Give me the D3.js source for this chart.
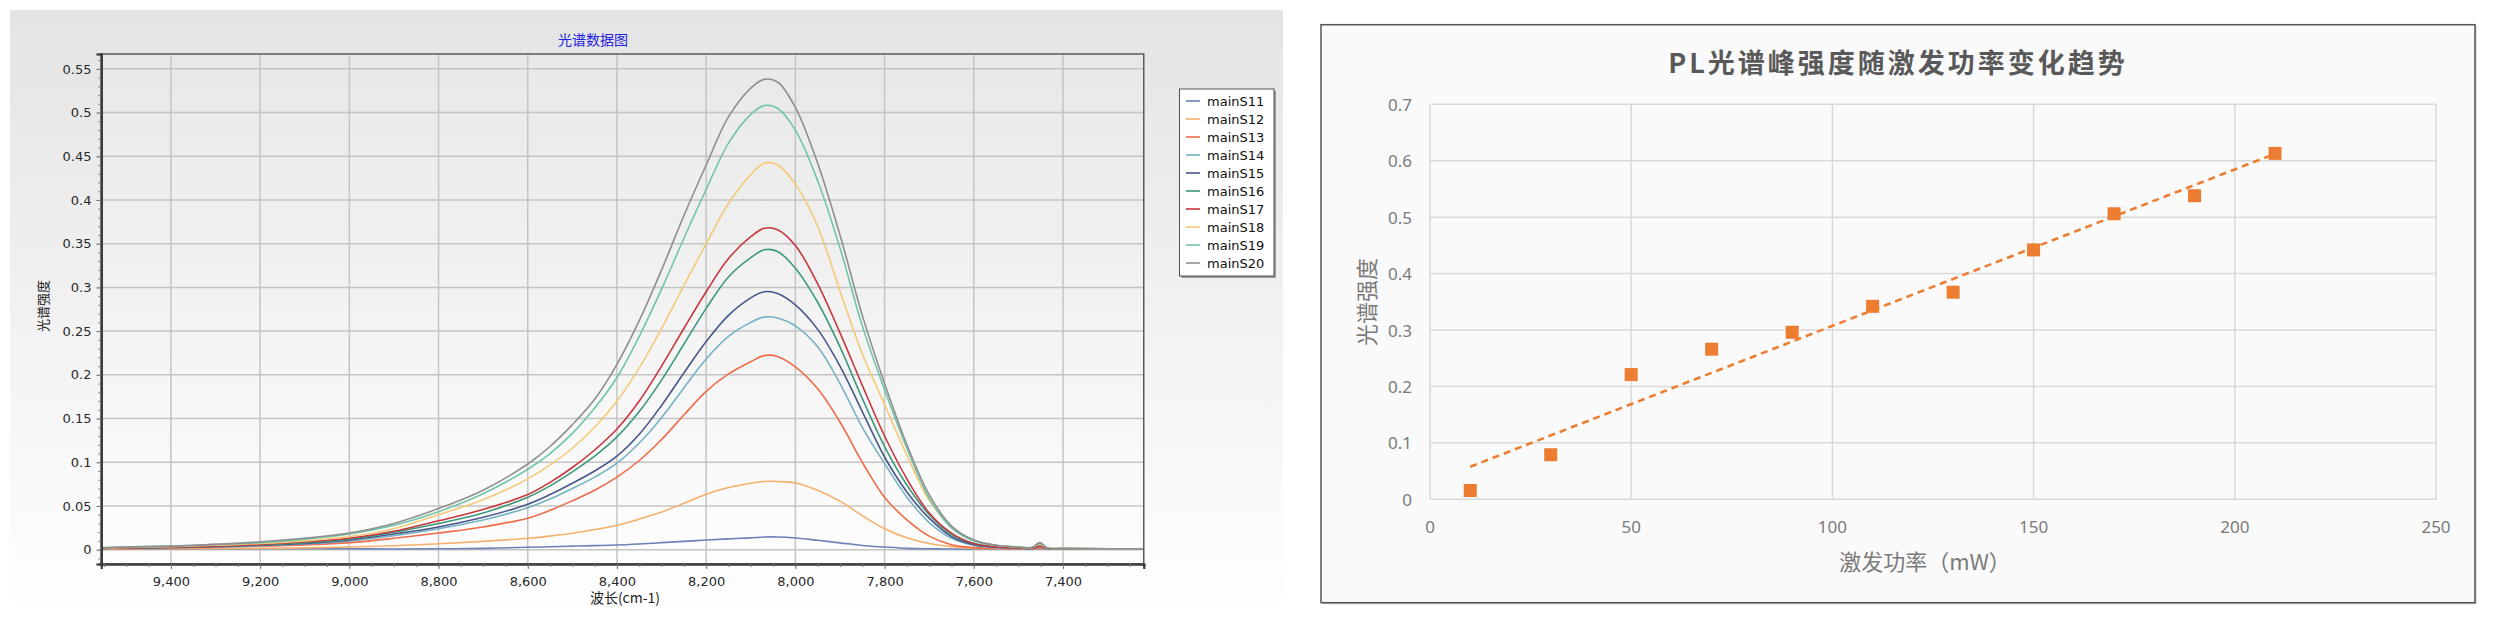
<!DOCTYPE html>
<html>
<head>
<meta charset="utf-8">
<script src="https://cdn.jsdelivr.net/npm/d3@7/dist/d3.min.js"></script>
<style>
  html, body { margin: 0; padding: 0; background: #ffffff; }
  svg { display: block; }
</style>
</head>
<body>
<svg id="chart" width="2500" height="628"></svg>
<script>
// ---------------- DATA (left chart: PL spectra) ----------------
const wavenumbers = [9556, 9500, 9400, 9300, 9200, 9100, 9000, 8900, 8800, 8700, 8600, 8550, 8500, 8450, 8400, 8350, 8300, 8250, 8200, 8150, 8100, 8070, 8040, 8000, 7950, 7900, 7850, 7800, 7750, 7700, 7650, 7600, 7550, 7500, 7470, 7452, 7435, 7400, 7300, 7220];

const seriesNames = ["mainS11", "mainS12", "mainS13", "mainS14", "mainS15", "mainS16", "mainS17", "mainS18", "mainS19", "mainS20"];
const seriesColors = ["#6c81b8", "#f5b06a", "#ef6b47", "#75b2c3", "#48578a", "#3d997e", "#c9363e", "#f4c978", "#70c5a8", "#8f8f8f"];

const mainS11 = [0.0008, 0.0008, 0.0008, 0.0008, 0.001, 0.001, 0.001, 0.0008, 0.001, 0.0015, 0.0027, 0.0033, 0.004, 0.0046, 0.0053, 0.0065, 0.008, 0.0095, 0.011, 0.0123, 0.0135, 0.0145, 0.0145, 0.0134, 0.0107, 0.0078, 0.0048, 0.003, 0.0015, 0.001, 0.0008, 0.0005, 0.0005, 0.0005, 0.0005, 0.0005, 0.0005, 0.0005, 0.0005, 0.0005];
const mainS12 = [0.001, 0.001, 0.001, 0.0012, 0.0015, 0.002, 0.003, 0.0045, 0.0068, 0.0095, 0.013, 0.0155, 0.0187, 0.023, 0.028, 0.035, 0.043, 0.053, 0.0635, 0.071, 0.076, 0.078, 0.078, 0.0763, 0.068, 0.0555, 0.039, 0.024, 0.0135, 0.007, 0.0035, 0.0015, 0.001, 0.001, 0.001, 0.001, 0.001, 0.001, 0.001, 0.001];
const mainS13 = [0.0015, 0.0015, 0.002, 0.003, 0.004, 0.0055, 0.008, 0.013, 0.019, 0.026, 0.036, 0.045, 0.056, 0.068, 0.083, 0.102, 0.126, 0.154, 0.181, 0.201, 0.215, 0.222, 0.221, 0.209, 0.184, 0.146, 0.100, 0.060, 0.034, 0.0155, 0.0057, 0.0023, 0.0012, 0.001, 0.001, 0.002, 0.001, 0.001, 0.001, 0.001];
const mainS14 = [0.0015, 0.002, 0.0025, 0.003, 0.0045, 0.0065, 0.010, 0.016, 0.024, 0.034, 0.048, 0.058, 0.070, 0.083, 0.099, 0.122, 0.151, 0.185, 0.218, 0.244, 0.260, 0.266, 0.265, 0.256, 0.232, 0.190, 0.140, 0.0985, 0.060, 0.031, 0.013, 0.005, 0.002, 0.0015, 0.001, 0.003, 0.001, 0.001, 0.001, 0.001];
const mainS15 = [0.0015, 0.002, 0.0025, 0.0035, 0.005, 0.007, 0.011, 0.018, 0.026, 0.037, 0.052, 0.063, 0.076, 0.090, 0.107, 0.132, 0.165, 0.202, 0.238, 0.268, 0.288, 0.295, 0.293, 0.280, 0.252, 0.210, 0.158, 0.106, 0.066, 0.036, 0.015, 0.0057, 0.003, 0.002, 0.0015, 0.004, 0.0015, 0.001, 0.001, 0.001];
const mainS16 = [0.0015, 0.002, 0.003, 0.004, 0.0055, 0.008, 0.012, 0.020, 0.030, 0.042, 0.060, 0.073, 0.089, 0.107, 0.129, 0.158, 0.194, 0.235, 0.276, 0.312, 0.334, 0.343, 0.341, 0.322, 0.283, 0.232, 0.173, 0.118, 0.074, 0.040, 0.0175, 0.0069, 0.003, 0.002, 0.0015, 0.007, 0.0015, 0.001, 0.001, 0.001];
const mainS17 = [0.0015, 0.002, 0.003, 0.004, 0.006, 0.009, 0.013, 0.021, 0.033, 0.046, 0.063, 0.077, 0.094, 0.114, 0.138, 0.170, 0.210, 0.253, 0.295, 0.333, 0.358, 0.3676, 0.366, 0.348, 0.304, 0.248, 0.188, 0.130, 0.081, 0.042, 0.019, 0.007, 0.003, 0.002, 0.0015, 0.004, 0.0015, 0.001, 0.001, 0.001];
const mainS18 = [0.002, 0.0025, 0.0035, 0.005, 0.007, 0.010, 0.015, 0.024, 0.040, 0.057, 0.081, 0.097, 0.116, 0.140, 0.170, 0.208, 0.253, 0.302, 0.350, 0.396, 0.429, 0.442, 0.440, 0.418, 0.370, 0.296, 0.224, 0.166, 0.108, 0.0565, 0.0267, 0.0107, 0.005, 0.003, 0.0025, 0.006, 0.002, 0.0015, 0.001, 0.001];
const mainS19 = [0.002, 0.003, 0.004, 0.006, 0.008, 0.012, 0.018, 0.028, 0.0435, 0.064, 0.092, 0.110, 0.133, 0.162, 0.197, 0.244, 0.298, 0.356, 0.412, 0.465, 0.498, 0.508, 0.505, 0.480, 0.422, 0.345, 0.256, 0.183, 0.116, 0.059, 0.025, 0.010, 0.005, 0.003, 0.0025, 0.007, 0.002, 0.0015, 0.001, 0.001];
const mainS20 = [0.002, 0.003, 0.004, 0.006, 0.009, 0.013, 0.019, 0.030, 0.047, 0.068, 0.098, 0.118, 0.143, 0.172, 0.212, 0.262, 0.320, 0.382, 0.440, 0.495, 0.528, 0.538, 0.535, 0.506, 0.442, 0.360, 0.268, 0.190, 0.120, 0.063, 0.027, 0.011, 0.005, 0.003, 0.0025, 0.008, 0.002, 0.0015, 0.001, 0.001];

const seriesValues = [mainS11, mainS12, mainS13, mainS14, mainS15, mainS16, mainS17, mainS18, mainS19, mainS20];

const xTicksLeft = [9400, 9200, 9000, 8800, 8600, 8400, 8200, 8000, 7800, 7600, 7400];
const yTicksLeft = [0, 0.05, 0.1, 0.15, 0.2, 0.25, 0.3, 0.35, 0.4, 0.45, 0.5, 0.55];
const yTickLabelsLeft = ["0", "0.05", "0.1", "0.15", "0.2", "0.25", "0.3", "0.35", "0.4", "0.45", "0.5", "0.55"];

// ---------------- DATA (right chart: peak vs power) ----------------
const power = [10, 30, 50, 70, 90, 110, 130, 150, 170, 190, 210];
const peakIntensity = [0.0156, 0.079, 0.221, 0.266, 0.296, 0.342, 0.367, 0.442, 0.506, 0.538, 0.613];
const xTicksRight = [0, 50, 100, 150, 200, 250];
const yTicksRight = [0, 0.1, 0.2, 0.3, 0.4, 0.5, 0.6, 0.7];
const yTickLabelsRight = ["0", "0.1", "0.2", "0.3", "0.4", "0.5", "0.6", "0.7"];

// ---------------- DRAWING ----------------
const svg = d3.select("#chart");
const defs = svg.append("defs");

function vGrad(id, c0, c1) {
  const g = defs.append("linearGradient").attr("id", id)
    .attr("x1", 0).attr("y1", 0).attr("x2", 0).attr("y2", 1);
  g.append("stop").attr("offset", "0%").attr("stop-color", c0);
  g.append("stop").attr("offset", "100%").attr("stop-color", c1);
}
vGrad("panelGrad", "#e4e4e4", "#ffffff");
vGrad("plotGrad", "#e8e8e8", "#fdfdfd");

const CJK = "'Noto Sans CJK SC', 'Noto Sans', sans-serif";
const LAT = "'DejaVu Sans', 'Liberation Sans', sans-serif";

// ===== Left chart =====
const L = { x0: 101.3, x1: 1143.75, y0: 54, y1: 564 };
const xL = d3.scaleLinear().domain([9556, 7219]).range([L.x0, L.x1]);
const yL = d3.scaleLinear().domain([-0.0164, 0.567]).range([L.y1, L.y0]);

svg.append("rect").attr("x", 10).attr("y", 10).attr("width", 1273).attr("height", 608)
  .attr("fill", "url(#panelGrad)");
svg.append("rect").attr("x", L.x0).attr("y", L.y0).attr("width", L.x1 - L.x0).attr("height", L.y1 - L.y0)
  .attr("fill", "url(#plotGrad)");

defs.append("clipPath").attr("id", "clipL").append("rect")
  .attr("x", L.x0).attr("y", L.y0).attr("width", L.x1 - L.x0).attr("height", L.y1 - L.y0);

const gridL = svg.append("g").attr("stroke", "#c4c4c4").attr("stroke-width", 1.5);
gridL.selectAll("line.v").data(xTicksLeft).join("line").attr("class", "v")
  .attr("x1", d => xL(d)).attr("x2", d => xL(d)).attr("y1", L.y0).attr("y2", L.y1);
gridL.selectAll("line.h").data(yTicksLeft).join("line").attr("class", "h")
  .attr("x1", L.x0).attr("x2", L.x1).attr("y1", d => yL(d)).attr("y2", d => yL(d));

const lineGen = d3.line()
  .x((d, i) => xL(wavenumbers[i]))
  .y(d => yL(d))
  .curve(d3.curveCatmullRom.alpha(0.5));

svg.append("g").attr("clip-path", "url(#clipL)")
  .selectAll("path").data(seriesValues).join("path")
  .attr("d", d => lineGen(d))
  .attr("fill", "none")
  .attr("stroke", (d, i) => seriesColors[i])
  .attr("stroke-width", 1.6)
  .attr("stroke-linejoin", "round");

// frame
svg.append("rect").attr("x", L.x0).attr("y", L.y0).attr("width", L.x1 - L.x0).attr("height", L.y1 - L.y0)
  .attr("fill", "none").attr("stroke", "#5a5a5a").attr("stroke-width", 1.5);

// axes
const axBottom = svg.append("g").attr("transform", `translate(0,${L.y1})`)
  .call(d3.axisBottom(xL).tickValues(xTicksLeft).tickFormat(d3.format(",")).tickSize(5).tickPadding(7.5));
const axBottomMinor = svg.append("g").attr("transform", `translate(0,${L.y1})`)
  .call(d3.axisBottom(xL).tickValues(d3.range(9550, 7219, -50)).tickFormat("").tickSize(3));
const axLeft = svg.append("g").attr("transform", `translate(${L.x0},0)`)
  .call(d3.axisLeft(yL).tickValues(yTicksLeft).tickFormat((d, i) => yTickLabelsLeft[i]).tickSize(5).tickPadding(4.8));
const axLeftMinor = svg.append("g").attr("transform", `translate(${L.x0},0)`)
  .call(d3.axisLeft(yL).tickValues(d3.range(-0.01, 0.566, 0.01)).tickFormat("").tickSize(3));

[axBottom, axBottomMinor, axLeft, axLeftMinor].forEach(a => {
  a.select(".domain").attr("stroke", "#3c3c3c").attr("stroke-width", 2.2);
  a.selectAll(".tick line").attr("stroke", "#777");
  a.selectAll("text").attr("fill", "#2a2a2a").style("font-family", LAT).style("font-size", "13px");
});

// left titles
svg.append("text").attr("x", 593).attr("y", 39).attr("text-anchor", "middle").attr("dominant-baseline", "central")
  .style("font-family", CJK).style("font-size", "14px").attr("fill", "#2323e0").text("光谱数据图");
svg.append("text").attr("transform", "translate(42,306) rotate(-90)").attr("text-anchor", "middle")
  .attr("dominant-baseline", "central")
  .style("font-family", CJK).style("font-size", "13px").attr("fill", "#222").text("光谱强度");
svg.append("text").attr("x", 625).attr("y", 597).attr("text-anchor", "middle").attr("dominant-baseline", "central")
  .style("font-family", CJK).style("font-size", "14px").attr("fill", "#222").text("波长(cm-1)");

// legend
const LG = { x: 1179.5, y: 89, w: 94.5, h: 187 };
svg.append("rect").attr("x", LG.x + 2).attr("y", LG.y + 2).attr("width", LG.w).attr("height", LG.h).attr("fill", "#9a9a9a");
svg.append("rect").attr("x", LG.x).attr("y", LG.y).attr("width", LG.w).attr("height", LG.h)
  .attr("fill", "#ffffff").attr("stroke", "#505050").attr("stroke-width", 1);
const legItems = svg.append("g").selectAll("g").data(seriesNames).join("g")
  .attr("transform", (d, i) => `translate(0,${LG.y + 12 + i * 18})`);
legItems.append("line").attr("x1", 1186).attr("x2", 1200).attr("y1", 0).attr("y2", 0)
  .attr("stroke", (d, i) => seriesColors[i]).attr("stroke-width", 2).attr("opacity", 0.8);
legItems.append("text").attr("x", 1207).attr("y", 0).attr("dominant-baseline", "central")
  .style("font-family", LAT).style("font-size", "13px").attr("fill", "#111").text(d => d);

// ===== Right chart =====
const R = { x0: 1430, x1: 2436, y0: 104.3, y1: 499.3 };
const xR = d3.scaleLinear().domain([0, 250]).range([R.x0, R.x1]);
const yR = d3.scaleLinear().domain([0, 0.7]).range([R.y1, R.y0]);

svg.append("rect").attr("x", 1322.5).attr("y", 26.2).attr("width", 1154).attr("height", 578).attr("fill", "#c8c8c8");
svg.append("rect").attr("x", 1321).attr("y", 24.7).attr("width", 1154).attr("height", 578)
  .attr("fill", "#fafafa").attr("stroke", "#555").attr("stroke-width", 1.5);

const gridR = svg.append("g").attr("stroke", "#d9d9d9").attr("stroke-width", 1.5);
gridR.selectAll("line.h").data(yTicksRight).join("line")
  .attr("x1", R.x0).attr("x2", R.x1).attr("y1", d => yR(d)).attr("y2", d => yR(d));
gridR.selectAll("line.v").data(xTicksRight).join("line")
  .attr("x1", d => xR(d)).attr("x2", d => xR(d)).attr("y1", R.y0).attr("y2", R.y1);

const tickFont = "'Noto Sans', 'Open Sans', sans-serif";
svg.append("g").selectAll("text").data(yTicksRight).join("text")
  .attr("x", 1412).attr("y", d => yR(d)).attr("text-anchor", "end").attr("dominant-baseline", "central")
  .style("font-family", tickFont).style("font-size", "17px").attr("fill", "#7a7a7a")
  .text((d, i) => yTickLabelsRight[i]);
svg.append("g").selectAll("text").data(xTicksRight).join("text")
  .attr("x", d => xR(d)).attr("y", 526).attr("text-anchor", "middle").attr("dominant-baseline", "central")
  .style("font-family", tickFont).style("font-size", "17px").attr("fill", "#7a7a7a")
  .text(d => d);

// trendline (least squares fit of the points)
const mx = d3.mean(power), my = d3.mean(peakIntensity);
const slope = d3.sum(power, (p, i) => (p - mx) * (peakIntensity[i] - my)) / d3.sum(power, p => (p - mx) * (p - mx));
const icpt = my - slope * mx;
const xs = d3.extent(power);
svg.append("line")
  .attr("x1", xR(xs[0])).attr("y1", yR(icpt + slope * xs[0]))
  .attr("x2", xR(xs[1])).attr("y2", yR(icpt + slope * xs[1]))
  .attr("stroke", "#ed7d31").attr("stroke-width", 2.6).attr("stroke-dasharray", "7,5");

const MS = 13;
svg.append("g").selectAll("rect").data(power).join("rect")
  .attr("x", d => xR(d) - MS / 2).attr("y", (d, i) => yR(peakIntensity[i]) - MS / 2)
  .attr("width", MS).attr("height", MS).attr("fill", "#ed7d31");

svg.append("text").attr("x", 1898).attr("y", 61).attr("text-anchor", "middle").attr("dominant-baseline", "central")
  .style("font-family", CJK).style("font-size", "27px").style("font-weight", "bold").style("letter-spacing", "3px")
  .attr("fill", "#595959").text("PL光谱峰强度随激发功率变化趋势");
svg.append("text").attr("transform", "translate(1365,302) rotate(-90)").attr("text-anchor", "middle")
  .attr("dominant-baseline", "central")
  .style("font-family", CJK).style("font-size", "22px").attr("fill", "#7a7a7a").text("光谱强度");
svg.append("text").attr("x", 1925).attr("y", 560).attr("text-anchor", "middle").attr("dominant-baseline", "central")
  .style("font-family", CJK).style("font-size", "22px").attr("fill", "#7a7a7a").text("激发功率（mW）");
</script>
</body>
</html>
